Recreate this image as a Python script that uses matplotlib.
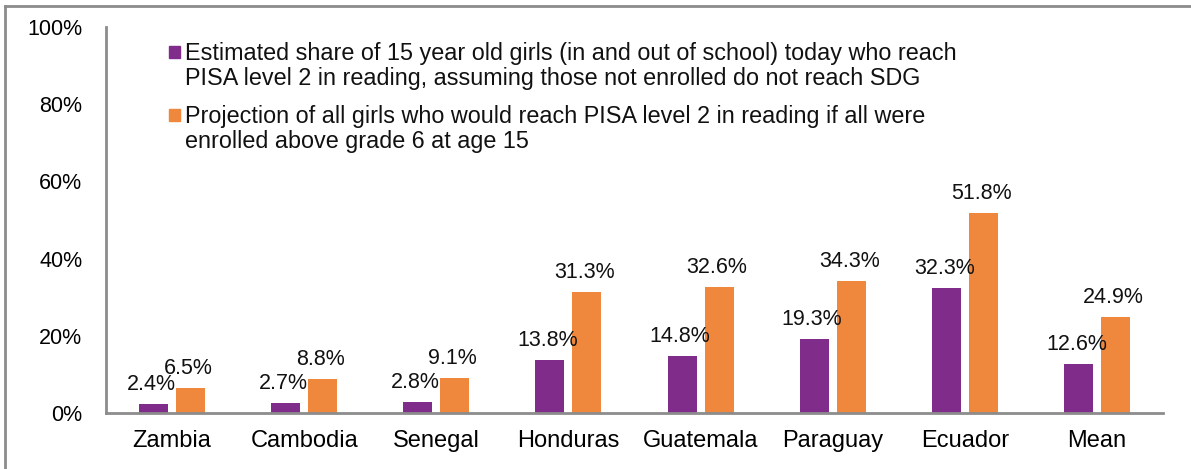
import matplotlib
matplotlib.use("Agg")
import matplotlib.pyplot as plt
import numpy as np
from matplotlib.lines import Line2D
from matplotlib.patches import Rectangle

plt.rcParams.update({"font.family": ["Liberation Sans", "DejaVu Sans"], "font.size": 15})

COUNTRIES = ["Zambia", "Cambodia", "Senegal", "Honduras", "Guatemala", "Paraguay", "Ecuador", "Mean"]
TODAY     = [2.4, 2.7, 2.8, 13.8, 14.8, 19.3, 32.3, 12.6]      # % reaching PISA level 2, in & out of school
PROJECTED = [6.5, 8.8, 9.1, 31.3, 32.6, 34.3, 51.8, 24.9]      # % if all enrolled above grade 6
LABELS = ["Estimated share of 15 year old girls (in and out of school) today who reach\n"
          "PISA level 2 in reading, assuming those not enrolled do not reach SDG",
          "Projection of all girls who would reach PISA level 2 in reading if all were\n"
          "enrolled above grade 6 at age 15"]
PURPLE, ORANGE = "#7F2C8A", "#EF873C"

fig = plt.figure(figsize=(11.91, 4.69), dpi=100)
ax = fig.add_axes([0.089, 0.1194, 0.8875, 0.823])

x = np.arange(len(COUNTRIES))
w, off = 0.22, 0.14
for vals, dx, col in [(TODAY, -off, PURPLE), (PROJECTED, off, ORANGE)]:
    bars = ax.bar(x + dx, [v / 100 for v in vals], w, color=col)
    for b, v in zip(bars, vals):
        ax.annotate(f"{v:.1f}%", (b.get_x() + b.get_width() / 2, b.get_height()),
                    xytext=(-1.5, 10), textcoords="offset points",
                    ha="center", va="baseline", fontsize=15.5, color="#111")

ax.set_xlim(-0.5, len(COUNTRIES) - 0.5)
ax.set_ylim(0, 1)
ax.set_yticks(np.arange(0, 1.01, 0.2))
ax.set_yticklabels([f"{int(t * 100)}%" for t in np.arange(0, 1.01, 0.2)])
ax.set_xticks(x)
ax.set_xticklabels(COUNTRIES)
ax.tick_params(axis="y", length=0, pad=17, labelsize=15.5)
ax.tick_params(axis="x", length=0, pad=12, labelsize=17)
for s in ["top", "right"]:
    ax.spines[s].set_visible(False)
for s in ["left", "bottom"]:
    ax.spines[s].set_color("#8c8c8c")
    ax.spines[s].set_linewidth(2)

# legend drawn by hand, Excel-style squares at the first line of each label
for lab, col, ytop, ysq in zip(LABELS, [PURPLE, ORANGE], [0.961, 0.798], [0.920, 0.757]):
    ax.add_patch(Rectangle((0.0596, ysq), 0.0104, 0.031, transform=ax.transAxes,
                           color=col, clip_on=False))
    ax.text(0.0747, ytop, lab, transform=ax.transAxes, ha="left", va="top",
            fontsize=16.8, linespacing=1.12, color="#111")

# outer frame (top and left only visible)
fig.add_artist(Line2D([5 / 1191, 5 / 1191], [0, 1 - 6 / 469], transform=fig.transFigure,
                      color="#8c8c8c", lw=2))
fig.add_artist(Line2D([5 / 1191, 1], [1 - 6 / 469, 1 - 6 / 469], transform=fig.transFigure,
                      color="#8c8c8c", lw=2))

fig.savefig("out.png", dpi=100)
